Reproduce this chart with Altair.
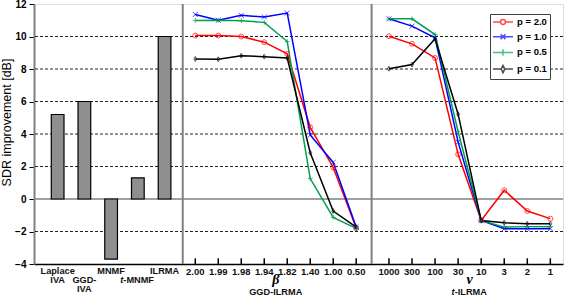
import altair as alt
import pandas as pd

# ---------------- data ----------------
methods = ["Laplace IVA", "GGD-IVA", "MNMF", "t-MNMF", "ILRMA"]
method_sdr = [5.2, 6.0, -3.7, 1.3, 10.0]
method_labels = ["Laplace\nIVA", "GGD-\nIVA", "MNMF", "-MNMF", "ILRMA"]
method_label_prefix = ["", "", "", "t", ""]
method_label_row = [0, 1, 0, 1, 0]

beta_ticks = ["2.00", "1.99", "1.98", "1.94", "1.82", "1.40", "1.00", "0.50"]
nu_ticks = ["1000", "300", "100", "30", "10", "3", "2", "1"]
p_labels = ["p = 2.0", "p = 1.0", "p = 0.5", "p = 0.1"]

ggd_p20 = [10.06, 10.06, 10.0, 9.65, 8.93, 4.41, 1.94, -1.79]
ggd_p10 = [11.36, 11.0, 11.3, 11.2, 11.44, 3.94, 2.25, -1.73]
ggd_p05 = [10.99, 11.0, 10.97, 10.87, 9.69, 1.26, -1.13, -1.81]
ggd_p01 = [8.62, 8.6, 8.82, 8.76, 8.68, 2.85, -0.74, -1.73]

t_p20 = [10.02, 9.55, 8.68, 2.75, -1.32, 0.54, -0.74, -1.21]
t_p10 = [11.09, 10.64, 9.92, 3.5, -1.32, -1.83, -1.83, -1.83]
t_p05 = [11.09, 11.09, 10.12, 4.14, -1.32, -1.73, -1.7, -1.7]
t_p01 = [8.02, 8.27, 9.86, 5.22, -1.32, -1.46, -1.52, -1.52]

grid_vals = [-2, 2, 4, 6, 8, 10]

# ---------------- layout ----------------
W, H = 529, 260
bar_x0, bar_step = 19.0, 27.25
sep1 = 146.5
mid_x0, mid_step = 159.3, 23.43
sep2 = 339.0
right_x0, right_step = 356.7, 23.5
Y_BOTTOM = -4

series_colors = ["#ff0000", "#0000ff", "#00a050", "#000000"]
point_paths = [
    "circle",
    "M-1,-1L1,1M-1,1L1,-1",
    "M-1,0L1,0M0,-1L0,1",
    "M0,-1L0.55,0L0,1L-0.55,0Z",
]
legend_paths = [
    "M-2.5,0L-0.6,0M0.6,0L2.5,0M0.6,0A0.6,0.6,0,1,1,-0.6,0A0.6,0.6,0,1,1,0.6,0",
    "M-2.5,0L2.5,0M-0.6,-0.6L0.6,0.6M-0.6,0.6L0.6,-0.6",
    "M-2.5,0L2.5,0M0,-0.8L0,0.8",
    "M-2.5,0L-0.45,0M0.45,0L2.5,0M0,-0.9L0.45,0L0,0.9L-0.45,0Z",
]

mid_pos = [mid_x0 + k * mid_step for k in range(len(beta_ticks))]
right_pos = [right_x0 + k * right_step for k in range(len(nu_ticks))]
bar_pos = [bar_x0 + i * bar_step for i in range(len(methods))]

bars_df = pd.DataFrame({"x": bar_pos, "v": method_sdr, "name": methods,
                        "label": method_labels, "prefix": method_label_prefix,
                        "row": method_label_row, "vb": [Y_BOTTOM] * len(methods)})

rows = []
for panel, pos, table in [("ggd", mid_pos, [ggd_p20, ggd_p10, ggd_p05, ggd_p01]),
                          ("t", right_pos, [t_p20, t_p10, t_p05, t_p01])]:
    for s, vals in zip(p_labels, table):
        for k, (xx, vv) in enumerate(zip(pos, vals)):
            rows.append({"panel": panel, "series": s, "x": xx, "v": vv, "order": k})
lines_df = pd.DataFrame(rows)

ticks_df = pd.DataFrame({"x": mid_pos + right_pos,
                         "label": beta_ticks + nu_ticks,
                         "v": [Y_BOTTOM] * 16, "v2": [Y_BOTTOM + 0.35] * 16})
grid_df = pd.DataFrame({"v": grid_vals})
zero_df = pd.DataFrame({"v": [0]})
sep_df = pd.DataFrame({"x": [sep1, sep2]})
panel_df = pd.DataFrame({"x": [sum(mid_pos) / len(mid_pos), sum(right_pos) / len(right_pos)],
                         "sym": ["β", "ν"], "name": ["GGD-ILRMA", "-ILRMA"],
                         "prefix": ["", "t"], "v": [Y_BOTTOM, Y_BOTTOM]})

FONT = "Liberation Sans"
LBL_SIZE = 9.2
LINE_H = 9.3

x_enc = alt.X("x:Q", scale=alt.Scale(domain=[0, W], nice=False, zero=False),
              axis=alt.Axis(labels=False, ticks=False, grid=False, title=None,
                            domainColor="black", domainWidth=1.5))
y_axis = alt.Axis(values=list(range(-4, 13, 2)), grid=False, tickColor="black",
                  tickSize=5, tickWidth=1, domainColor="#808080", domainWidth=2,
                  labelFontSize=10, labelFontWeight="bold", labelPadding=3,
                  labelColor="black", title="SDR improvement [dB]",
                  titleFontSize=12.5, titleFontWeight="normal", titleColor="black",
                  titleX=-24, titleY=118, titleBaseline="alphabetic")
y_scale = alt.Scale(domain=[-4, 12], nice=False, zero=False)


def Y(field="v"):
    return alt.Y(f"{field}:Q", scale=y_scale, axis=y_axis)


color_scale = alt.Scale(domain=p_labels, range=series_colors)

grid = alt.Chart(grid_df).mark_rule(color="#222222", strokeDash=[3, 2], strokeWidth=1).encode(y=Y())
zero = alt.Chart(zero_df).mark_rule(color="#808080", strokeWidth=1.5).encode(y=Y())
seps = alt.Chart(sep_df).mark_rule(color="#808080", strokeWidth=2).encode(x=x_enc)

bars = alt.Chart(bars_df).mark_bar(size=12.7, color="#8f8f8f", stroke="black",
                                   strokeWidth=1.2).encode(
    x=x_enc, y=Y(), y2=alt.Y2(datum=0))

ticks = alt.Chart(ticks_df).mark_rule(color="black", strokeWidth=1.5).encode(
    x=x_enc, y=Y(), y2="v2:Q")

tick_labels = alt.Chart(ticks_df).mark_text(
    font=FONT, fontSize=9.5, fontWeight="bold", baseline="top", dy=3,
    color="#111111").encode(x=x_enc, y=Y(), text="label:N")

lbl_common = dict(font=FONT, fontSize=LBL_SIZE, fontWeight="bold", baseline="top",
                  lineBreak="\n", lineHeight=LINE_H, color="#111111")
row0 = alt.Chart(bars_df).transform_filter("datum.row == 0").mark_text(
    align="center", dy=2.5, **lbl_common).encode(x=x_enc, y=Y("vb"), text="label:N")
row1 = alt.Chart(bars_df).transform_filter("datum.row == 1 && datum.prefix == ''").mark_text(
    align="center", dy=2.5 + LINE_H, **lbl_common).encode(x=x_enc, y=Y("vb"), text="label:N")
row1_rest = alt.Chart(bars_df).transform_filter("datum.prefix != ''").mark_text(
    align="left", dx=-14.5, dy=2.5 + LINE_H, **lbl_common).encode(x=x_enc, y=Y("vb"), text="label:N")
row1_pre = alt.Chart(bars_df).transform_filter("datum.prefix != ''").mark_text(
    align="right", dx=-14.5, dy=2.5 + LINE_H, fontStyle="italic", **lbl_common).encode(
    x=x_enc, y=Y("vb"), text="prefix:N")

sym = alt.Chart(panel_df).mark_text(
    font="Liberation Serif", fontSize=14, fontStyle="italic", fontWeight="bold",
    baseline="alphabetic", dy=20, color="black").encode(x=x_enc, y=Y(), text="sym:N")
pname_common = dict(font=FONT, fontSize=LBL_SIZE, fontWeight="bold",
                    baseline="alphabetic", dy=30.5, color="#111111")
pname_plain = alt.Chart(panel_df).transform_filter("datum.prefix == ''").mark_text(
    **pname_common).encode(x=x_enc, y=Y(), text="name:N")
pname_rest = alt.Chart(panel_df).transform_filter("datum.prefix != ''").mark_text(
    align="left", dx=-15, **pname_common).encode(x=x_enc, y=Y(), text="name:N")
pname_pre = alt.Chart(panel_df).transform_filter("datum.prefix != ''").mark_text(
    align="right", dx=-15, fontStyle="italic", **pname_common).encode(
    x=x_enc, y=Y(), text="prefix:N")

lines = alt.Chart(lines_df).mark_line(strokeWidth=1.5).encode(
    x=x_enc, y=Y(),
    color=alt.Color("series:N", scale=color_scale, legend=None),
    detail="panel:N", order="order:Q")

points = alt.Chart(lines_df).mark_point(filled=False, size=24, strokeWidth=1).encode(
    x=x_enc, y=Y(),
    color=alt.Color("series:N", scale=color_scale, legend=None),
    shape=alt.Shape("series:N", scale=alt.Scale(domain=p_labels, range=point_paths),
                    legend=None))

leg = alt.Legend(title=None, orient="none", legendX=456, legendY=10,
                 strokeColor="#404040", fillColor="white", padding=3,
                 symbolSize=64, symbolStrokeWidth=1.5, symbolOffset=5,
                 labelOffset=9, labelFontSize=9.5, labelFontWeight="bold",
                 labelFont=FONT, labelColor="black", rowPadding=2.7,
                 labelExpr="datum.label + '\u00a0\u00a0\u00a0'")
legend_layer = alt.Chart(lines_df).transform_filter("false").mark_point(
    filled=False, size=64, strokeWidth=1.5).encode(
    x=x_enc, y=Y(),
    color=alt.Color("series:N", scale=color_scale, legend=leg),
    shape=alt.Shape("series:N", scale=alt.Scale(domain=p_labels, range=legend_paths),
                    legend=leg))

chart = alt.layer(
    grid, zero, seps, bars, ticks, lines, points, tick_labels,
    row0, row1, row1_rest, row1_pre, sym, pname_plain, pname_rest, pname_pre,
    legend_layer,
).resolve_scale(color="independent", shape="independent").properties(
    width=W, height=H, autosize="none",
    padding={"left": 34, "top": 4, "right": 4, "bottom": 33},
).configure_view(stroke="#808080", strokeWidth=2).configure(font=FONT)

chart.save("out.html", embed_options={"renderer": "svg", "actions": False})
